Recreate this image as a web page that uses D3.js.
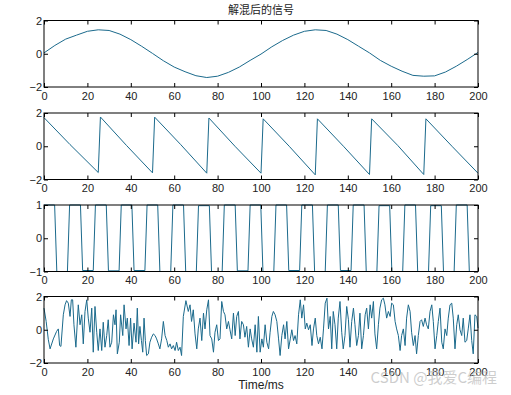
<!DOCTYPE html>
<html>
<head>
<meta charset="utf-8">
<script src="https://cdn.jsdelivr.net/npm/d3@7"></script>
<style>
  body { margin: 0; background: #fff; }
  svg { display: block; }
  .tick text { font-family: Arial, "Liberation Sans", sans-serif; font-size: 11px; fill: #222; }
</style>
</head>
<body>
<div id="chart"></div>
<script>
// x tick labels, shared by every panel
const xTicks = [0, 20, 40, 60, 80, 100, 120, 140, 160, 180, 200]

// panel 1: sine, sampled every 5 ms
const sineT = [0, 5, 10, 15, 20, 25, 30, 35, 40, 45, 50, 55, 60, 65, 70, 75, 80, 85, 90, 95, 100,
  105, 110, 115, 120, 125, 130, 135, 140, 145, 150, 155, 160, 165, 170, 175, 180, 185, 190, 195, 200]
const sineV = [0.05, 0.5, 0.88, 1.12, 1.35, 1.44, 1.4, 1.18, 0.85, 0.45, 0.02, -0.42, -0.8, -1.08, -1.32, -1.43, -1.35, -1.12, -0.8, -0.4, -0.02,
  0.42, 0.8, 1.12, 1.35, 1.44, 1.4, 1.18, 0.85, 0.45, 0.05, -0.4, -0.75, -1.05, -1.3, -1.35, -1.33, -1.1, -0.75, -0.35, 0.08]

// panel 2: sawtooth vertices
const sawT = [0, 12, 25, 26, 38, 50, 51, 63, 75, 76, 88, 100, 101, 113, 125, 126, 138, 150, 151, 163, 175, 176, 188, 200]
const sawV = [1.72, 0.1, -1.58, 1.76, 0.05, -1.6, 1.75, 0.1, -1.62, 1.7, 0.0, -1.62, 1.65, 0.0, -1.72, 1.65, 0.0, -1.7, 1.65, 0.05, -1.7, 1.65, 0.0, -1.62]

// panel 3: square wave, switching times (ms) and the level of each run
const squareEdges = [5.4, 11.3, 17.3, 23.2, 29.2, 35.1, 41.0, 47.0, 52.9, 58.9, 64.8, 70.7, 76.7, 82.6, 88.6, 94.5,
  100.4, 106.4, 112.3, 118.3, 124.2, 130.1, 136.1, 142.0, 148.0, 153.9, 159.8, 165.8, 171.7, 177.7, 183.6, 189.5, 195.5]
const squareLevels = [1, -1, 1, -0.97, 1, -0.98, 1, -0.97, 1, -1, 1, -1, 0.98, -1, 1, -0.98, 1,
  -1, 1, -0.97, 1, -1, 1, -0.97, 1, -1, 0.98, -1, 1, -1, 0.98, -1, 1, -1]

// panel 4: noise, [time, value]
const noise = [[0,1.3],[1,0.5],[2,-0.6],[2.8,-1.15],[4.3,-0.55],[5.8,-0.1],[6.6,0.05],[7.2,-0.95],[7.8,-1.0],[8.9,0.9],[9.7,1.5],
  [10.4,1.75],[11.2,1.6],[12,0.8],[12.6,1.8],[13.2,1.8],[13.8,0.3],[14.7,-1.05],[15.8,1.5],[16.6,0.3],[17.4,0.9],[18.1,-0.85],
  [18.9,1.1],[19.7,1.8],[20.4,0.7],[21.2,-0.15],[22,1.3],[22.7,-1.35],[23.5,1.4],[24.3,-0.15],[25,-1.25],[25.8,0.05],[26.6,-1.25],
  [27.3,0.45],[28.1,-1.05],[28.9,-0.35],[29.6,0.6],[30.4,-1.05],[31.2,-0.75],[32,0.9],[32.7,0.3],[33.2,1.2],[33.8,-1.45],[34.7,-0.75],
  [35.3,0.9],[36.3,-0.35],[36.9,1.5],[37.8,0.05],[38.4,0.7],[39.2,-0.95],[39.9,0.7],[40.6,-1.15],[41.5,0.4],[42.4,-0.75],[43,1.3],
  [43.6,-0.85],[44.2,0.2],[44.9,-0.65],[45.5,-1.35],[46.1,0.7],[46.7,-0.65],[47.3,-1.55],[48.1,-1.45],[48.8,-0.75],[49.6,-0.45],
  [50.4,-0.25],[51.2,-0.35],[51.9,-0.55],[52.7,-0.85],[53.4,-1.15],[54.2,-0.55],[55,0.5],[55.8,-0.35],[56.6,-0.65],[57.3,-1.05],
  [58.1,-0.85],[58.8,-1.15],[59.6,-0.95],[60.4,-1.25],[61.1,-0.75],[61.9,-1.25],[62.7,-1.05],[63.4,-1.55],[64.2,0.8],[65.4,1.75],
  [66.5,1.1],[67.3,1.5],[68,0.5],[68.8,1.2],[69.6,-0.25],[70.4,-1.15],[71.1,0.05],[71.9,0.7],[72.7,-0.65],[73.5,1.0],[74.2,0.05],
  [75,1.2],[75.8,1.8],[76.5,-0.35],[77.3,-0.55],[78.1,-1.35],[78.8,-0.15],[79.6,0.3],[80.4,-0.65],[81.1,-0.55],[81.9,1.7],[82.7,1.1],
  [83.4,0.9],[84.2,0.05],[85,0.5],[85.7,0],[86.5,-0.55],[87.3,1.0],[88.1,-0.35],[88.8,0.8],[89.6,1.1],[90.3,-0.55],[91.1,0.5],
  [91.9,0.3],[92.6,-0.45],[93.4,0.2],[94.2,-1.05],[95,0.05],[95.7,-0.55],[96.5,-1.05],[97.3,0.3],[98.1,-1.35],[98.8,0.8],[99.6,-1.35],
  [100.4,-0.55],[101.1,-1.05],[101.9,0.3],[102.7,-0.75],[103.5,-1.15],[104.2,-0.15],[105,0.8],[105.7,1.1],[106.5,0.9],[107.3,0.5],
  [108.1,-0.55],[108.8,-1.55],[109.6,-0.35],[110.4,0.3],[111.1,-0.55],[111.9,0.5],[112.7,-1.15],[113.5,-0.55],[114.2,0],[115,-0.65],
  [115.7,-0.35],[116.5,-0.85],[117.3,0.9],[118.1,1.8],[118.8,0.7],[119.6,1.5],[120.4,0.05],[121.1,0.4],[121.9,0],[122.7,0.3],
  [123.5,-0.95],[124.2,0.05],[125,0.7],[125.7,-0.35],[126.5,-0.85],[127.3,-0.45],[128.1,-1.15],[128.8,0.05],[129.6,1.6],[130.4,1.9],
  [131.1,0.05],[131.9,0.8],[132.6,-1.15],[133.3,1.1],[134.1,0.3],[134.9,-1.15],[135.6,0.7],[136.4,1.7],[137.2,-0.15],[137.9,-1.15],
  [138.7,-0.35],[139.5,1.4],[140.3,0.6],[141,-1.05],[141.8,0.5],[142.6,1.3],[143.3,0.3],[144.1,-0.95],[144.9,-0.35],[145.6,1.0],
  [146.4,-1.15],[147.2,-0.35],[148,0.9],[148.7,1.3],[149.5,0.05],[150.3,1.5],[151,0.7],[151.8,1.7],[152.5,-0.25],[153.3,-1.15],
  [154.1,0.3],[154.8,1.3],[155.6,1.8],[156.4,1.9],[157.1,1.5],[157.9,0.7],[158.7,1.1],[159.5,0.8],[160.2,1.6],[161,1.5],[161.8,0.5],
  [162.5,0.05],[163.3,-0.35],[164.1,-1.25],[164.8,-0.35],[165.6,0.05],[166.4,-0.95],[167.1,0.7],[167.9,1.5],[168.7,1.1],[169.4,-0.15],
  [170.2,-0.95],[171,-0.35],[171.7,-1.45],[172.5,-0.35],[173.3,0.5],[174,0.6],[174.8,0.2],[175.6,0.7],[176.3,0.3],[177.1,0.05],
  [177.9,1.1],[178.7,1.5],[179.4,0.5],[180.2,-1.15],[181,-0.35],[181.7,0.5],[182.5,1.3],[183.3,-0.75],[184,-1.15],[184.8,0.05],
  [185.6,-0.35],[186.3,0.7],[187.1,1.5],[187.9,1.6],[188.6,0.7],[189.4,-1.15],[190.2,0.3],[190.9,0.9],[191.7,0],[192.5,-0.35],
  [193.2,0.7],[194,-0.75],[194.8,-0.65],[195.5,0.05],[196.3,0.9],[197.1,-0.65],[197.8,-1.45],[198.6,0.9],[199.4,0.8],[200,0.1]]

const title = "解混后的信号"
const xLabel = "Time/ms"

function squarePoints() {
  // each switch takes one 1 ms sample step
  let pts = [[0, squareLevels[0]]]
  squareEdges.forEach((t, i) => {
    pts.push([t - 0.5, squareLevels[i]])
    pts.push([t + 0.5, squareLevels[i + 1]])
  })
  pts.push([200, squareLevels[squareLevels.length - 1]])
  return pts
}

function drawPanel(svg, x, top, h, yDomain, yTicks, points) {
  let y = d3.scaleLinear().domain(yDomain).range([top + h, top])
  let g = svg.append("g")

  g.append("path")
    .datum(points)
    .attr("fill", "none")
    .attr("stroke", "#1b6a8c")
    .attr("stroke-width", 1)
    .attr("d", d3.line().x(d => x(d[0])).y(d => y(d[1])))

  // MATLAB style: ticks point inward on all four sides
  g.append("g").attr("transform", `translate(0,${top + h})`)
    .call(d3.axisBottom(x).tickValues(xTicks).tickSize(-4).tickPadding(5).tickFormat(d3.format("d")))
  g.append("g").attr("transform", `translate(0,${top})`)
    .call(d3.axisTop(x).tickValues(xTicks).tickSize(-4).tickFormat(""))
  g.append("g").attr("transform", `translate(${x.range()[0]},0)`)
    .call(d3.axisLeft(y).tickValues(yTicks).tickSize(-4).tickPadding(2).tickFormat(d3.format("d")))
  g.append("g").attr("transform", `translate(${x.range()[1]},0)`)
    .call(d3.axisRight(y).tickValues(yTicks).tickSize(-4).tickFormat(""))
  g.selectAll(".domain").remove()
  g.selectAll(".tick line").attr("stroke", "#000")

  g.append("rect")
    .attr("x", x.range()[0]).attr("y", top)
    .attr("width", x.range()[1] - x.range()[0]).attr("height", h)
    .attr("fill", "none").attr("stroke", "#000").attr("stroke-width", 1)
}

function createChart() {
  const width = 511, height = 395
  const svg = d3.select("#chart").append("svg").attr("width", width).attr("height", height)

  const x = d3.scaleLinear().domain([0, 200]).range([44, 478])
  const h = 66.5

  drawPanel(svg, x, 20.5, h, [-2, 2], [-2, 0, 2], sineT.map((t, i) => [t, sineV[i]]))
  drawPanel(svg, x, 113, h, [-2, 2], [-2, 0, 2], sawT.map((t, i) => [t, sawV[i]]))
  drawPanel(svg, x, 205, h, [-1, 1], [-1, 0, 1], squarePoints())
  drawPanel(svg, x, 296.5, h, [-2, 2], [-2, 0, 2], noise)

  svg.append("text")
    .text(title)
    .attr("x", 261).attr("y", 14)
    .attr("text-anchor", "middle")
    .style("font-family", "'Noto Sans CJK SC', sans-serif")
    .style("font-size", "11px")
    .attr("fill", "#222")

  svg.append("text")
    .text(xLabel)
    .attr("x", 261).attr("y", 389)
    .attr("text-anchor", "middle")
    .style("font-family", "Arial, 'Liberation Sans', sans-serif")
    .style("font-size", "12px")
    .attr("fill", "#222")

  // watermark (sits over the last tick labels, as in the source image)
  svg.append("text")
    .text("CSDN @我爱C编程")
    .attr("x", 497).attr("y", 383)
    .attr("text-anchor", "end")
    .style("font-family", "'Noto Sans CJK SC', sans-serif")
    .style("font-size", "15px")
    .attr("fill", "#bdbdbd")
    .attr("fill-opacity", 0.75)
}

createChart()
</script>
</body>
</html>
